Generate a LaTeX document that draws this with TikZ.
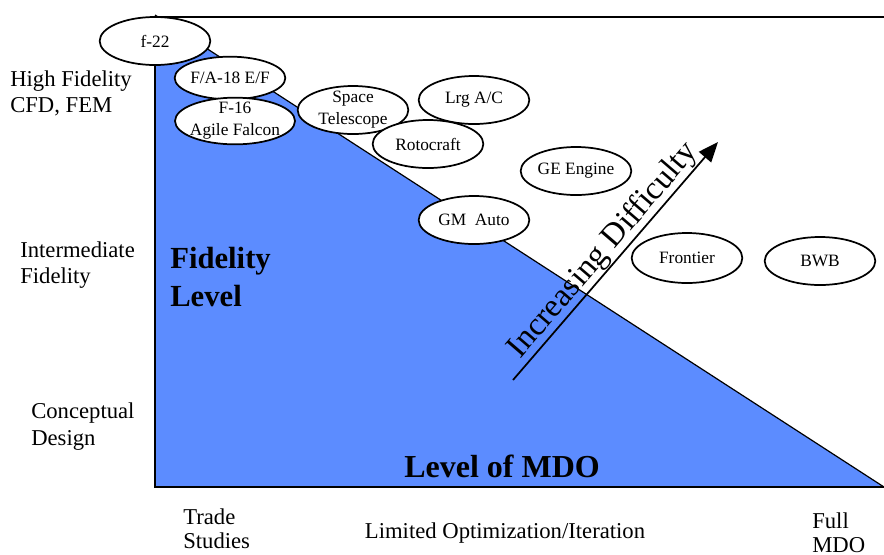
\documentclass[tikz,border=0pt]{standalone}
\usepackage{fontspec}
\setmainfont{Liberation Serif}
\usetikzlibrary{shapes.geometric}
\usetikzlibrary{arrows.meta}
\definecolor{mdoblue}{RGB}{92,140,255}
\newcommand{\program}[5][]{\node[program,#1] (#2) at (#3,#4) {#5};}
\newcommand{\sidelabel}[5][]{\node[sidelabel,#1] (#2) at (#3,#4) {#5};}

\begin{document}
\begin{tikzpicture}[x=0.75pt,y=-0.75pt,
  program/.style={ellipse,draw,fill=white,line width=1.3pt,inner sep=-6pt,
    minimum width=83pt,minimum height=36pt,align=center,
    font=\fontsize{13}{16.5}\selectfont},
  sidelabel/.style={anchor=north west,inner sep=0pt,align=left,
    font=\fontsize{17}{19.5}\selectfont},
  biglabel/.style={inner sep=0pt,align=left,
    font=\bfseries\fontsize{23}{28.5}\selectfont}]
\useasboundingbox (0,0) rectangle (884,554);
% blue triangle and axes
\coordinate (top) at (155,15);
\coordinate (axistop) at (155,17);
\coordinate (topright) at (884,17);
\coordinate (origin) at (155,487);
\coordinate (corner) at (884,487);
\fill[mdoblue] (top) -- (origin) -- (corner) -- cycle;
\draw[line width=0.9pt] (top) -- (corner);
\draw[line width=1pt] (axistop) -- (topright);
\draw[line width=2pt] (axistop) -- (origin) -- (corner);
% difficulty arrow
\coordinate (dstart) at (513,380);
\coordinate (dend) at (718,142);
\draw[line width=1.3pt,-{Triangle[length=15pt,width=12pt]}] (dstart) -- (dend)
  node[midway,sloped,above,inner sep=0pt,font=\fontsize{24.5}{28}\selectfont] (difficulty) {Increasing Difficulty};
% programs
\program{f22}{155}{41}{f-22}
\program[minimum height=32pt]{fa18}{230}{78}{F/A-18 E/F}
\program[minimum width=90pt,minimum height=35pt]{f16}{235}{121}{F-16\\Agile Falcon}
\program{telescope}{353}{110}{Space\\Telescope}
\program{lrgac}{474}{100}{Lrg A/C}
\program{rotocraft}{428}{144}{Rotocraft}
\program{geengine}{576}{171}{GE Engine}
\program{gmauto}{474}{220}{GM\ \ Auto}
\program[minimum height=37.5pt]{frontier}{687}{258}{Frontier}
\program{bwb}{820}{261}{BWB}
% fidelity labels
\sidelabel{high}{10}{71}{High Fidelity\\CFD, FEM}
\sidelabel{inter}{20}{241}{Intermediate\\Fidelity}
\sidelabel[font=\fontsize{17}{20.5}\selectfont]{concept}{31}{402}{Conceptual\\Design}
% MDO labels
\sidelabel[font=\fontsize{17}{18}\selectfont]{trade}{183}{508}{Trade\\Studies}
\sidelabel[anchor=north]{limited}{505}{522}{Limited Optimization/Iteration}
\sidelabel[font=\fontsize{17}{18.5}\selectfont]{full}{812}{512}{Full\\MDO}
% bold titles
\node[biglabel,anchor=north west] (fidelity) at (170,247) {Fidelity\\Level};
\node[biglabel,anchor=north,font=\bfseries\fontsize{24}{28}\selectfont] (mdo) at (502,455) {Level of MDO};
\end{tikzpicture}
\end{document}
